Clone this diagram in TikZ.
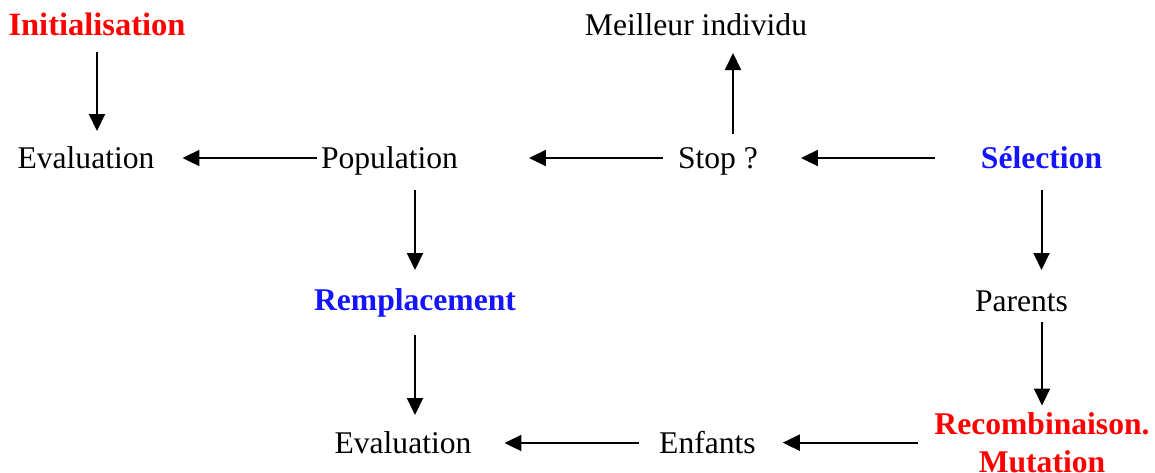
\documentclass[tikz,border=0pt]{standalone}
\usepackage{fontspec}
\setmainfont{Liberation Serif}
\usetikzlibrary{arrows.meta}
\definecolor{lbred}{RGB}{255,0,0}
\definecolor{lbblue}{RGB}{20,20,255}
\tikzset{
  lbl/.style={inner sep=0pt, outer sep=0pt, anchor=base, text height=22pt, text depth=2pt,
              font=\fontsize{31.6}{38}\selectfont},
  redlbl/.style={lbl, text=lbred, font=\fontsize{31.6}{38}\selectfont\bfseries},
  bluelbl/.style={lbl, text=lbblue, font=\fontsize{31.6}{38}\selectfont\bfseries},
  arr/.style={line width=2pt, -{Triangle[length=17pt,width=16pt]}}
}
\begin{document}
\begin{tikzpicture}[x=1pt,y=-1pt]
\useasboundingbox (0,0) rectangle (1155,472);
% nodes
\node[redlbl, font=\fontsize{32.5}{38}\selectfont\bfseries] (init) at (97,35) {Initialisation};
\node[lbl] (eval1) at (86,168) {Evaluation};
\node[lbl] (pop) at (389.5,168) {Population};
\node[lbl] (stop) at (718,168) {Stop ?};
\node[lbl] (best) at (696,35) {Meilleur individu};
\node[bluelbl] (sel) at (1041.5,168) {Sélection};
\node[lbl] (par) at (1021.5,311) {Parents};
\node[bluelbl] (rem) at (415,310) {Remplacement};
\node[lbl] (eval2) at (403,453) {Evaluation};
\node[lbl] (enf) at (707.5,453) {Enfants};
\node[inner sep=0pt, outer sep=0pt, anchor=north, align=center, text=lbred,
      font=\fontsize{31.6}{38}\selectfont\bfseries] (rec) at (1042,412.5) {Recombinaison.\\Mutation};
% connectors
\draw[arr, shorten <=15pt, shorten >=15pt] (init.south) -- (init.south |- eval1.north);
\draw[arr, shorten <=4pt, shorten >=28pt] (pop.west) -- (eval1.east);
\draw[arr, shorten <=15pt, shorten >=71pt] (stop.west) -- (pop.east);
\draw[arr, shorten <=12pt, shorten >=16pt] ([xshift=15pt]stop.north) -- ([xshift=15pt]stop.north |- best.south);
\draw[arr, shorten <=46pt, shorten >=43pt] (sel.west) -- (sel.west -| stop.east);
\draw[arr, shorten <=20pt, shorten >=19pt] (sel.south) -- (sel.south |- par.north);
\draw[arr, shorten <=9pt, shorten >=7pt] (par.south -| rec.north) -- (rec.north);
\draw[arr, shorten <=16pt, shorten >=27pt] (rec.west) -- (rec.west -| enf.east);
\draw[arr, shorten <=20pt, shorten >=33pt] (enf.west) -- (eval2.east);
\draw[arr, shorten <=20pt, shorten >=18pt] (pop.south -| rem.north) -- (rem.north);
\draw[arr, shorten <=23pt, shorten >=16pt] (rem.south) -- (rem.south |- eval2.north);
\end{tikzpicture}
\end{document}
